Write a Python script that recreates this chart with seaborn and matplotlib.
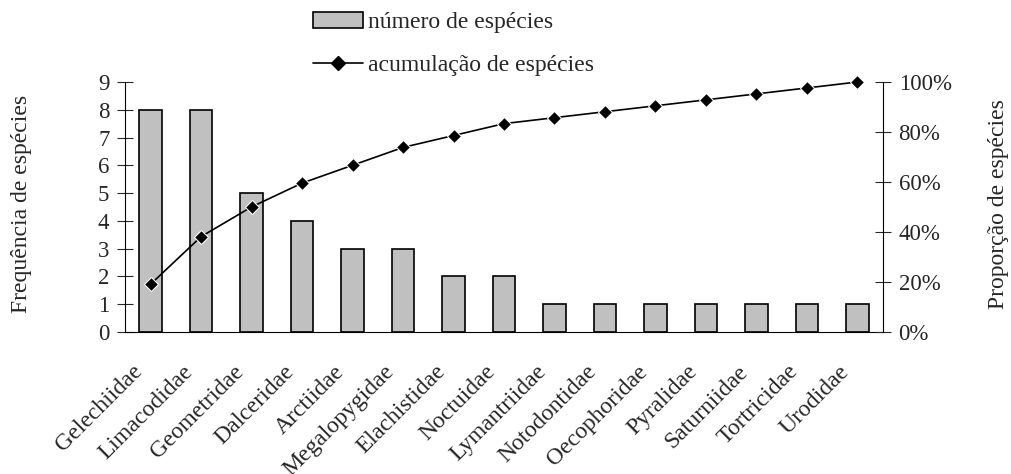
import numpy as np
import pandas as pd
import matplotlib.pyplot as plt
import matplotlib.transforms as mtransforms
import seaborn as sns
from matplotlib.patches import Patch
from matplotlib.lines import Line2D

# Families and number of species per family
familias = ['Gelechiidae', 'Limacodidae', 'Geometridae', 'Dalceridae', 'Arctiidae',
            'Megalopygidae', 'Elachistidae', 'Noctuidae', 'Lymantriidae', 'Notodontidae',
            'Oecophoridae', 'Pyralidae', 'Saturniidae', 'Tortricidae', 'Urodidae']
especies = [8, 8, 5, 4, 3, 3, 2, 2, 1, 1, 1, 1, 1, 1, 1]

df = pd.DataFrame({'familia': familias, 'n': especies})
df['acum'] = df['n'].cumsum() / df['n'].sum()
df['pos'] = np.arange(len(df))

sns.set_style('white')
plt.rcParams['font.family'] = ['Liberation Serif', 'DejaVu Serif']
fs = 17

fig = plt.figure(figsize=(10.11, 4.74), dpi=100)
ax = fig.add_axes([0.124, 0.30, 0.749, 0.527])

sns.barplot(data=df, x='familia', y='n', color='#c0c0c0', edgecolor='black',
            linewidth=1.2, width=0.45, saturation=1, ax=ax)
ax.set_ylim(0, 9)
ax.set_xlim(-0.5, len(df) - 0.5)
ax.set_yticks(range(10))
ax.set_xlabel('')
ax.set_ylabel('')
ax.set_xticks(df['pos'])
ax.set_xticklabels(familias, rotation=45, ha='right', rotation_mode='anchor')
ax.set_xticks(np.arange(-0.5, len(df)), minor=True)
ax.tick_params(axis='x', which='major', length=0, pad=21, labelsize=fs)
ax.tick_params(axis='x', which='minor', length=11, direction='inout', width=0.8)
ax.tick_params(axis='y', length=11, direction='inout', width=0.8, labelsize=16.5, pad=6)
# nudge the rotated labels a little to the left
shift = mtransforms.ScaledTranslation(-0.19, 0, fig.dpi_scale_trans)
for lbl in ax.get_xticklabels():
    lbl.set_transform(lbl.get_transform() + shift)
for s in ['top', 'right']:
    ax.spines[s].set_visible(False)
for s in ['left', 'bottom']:
    ax.spines[s].set_linewidth(0.8)
    ax.spines[s].set_color('black')

ax2 = ax.twinx()
sns.lineplot(x=df['pos'], y=df['acum'], color='black', marker='D', markersize=7,
             linewidth=1.2, clip_on=False, ax=ax2)
ax2.set_ylim(0, 1)
ax2.set_xlim(-0.5, len(df) - 0.5)
ax2.set_yticks(np.arange(0, 1.01, 0.2))
ax2.set_yticklabels([f'{int(round(v * 100))}%' for v in np.arange(0, 1.01, 0.2)])
ax2.set_ylabel('')
ax2.set_xlabel('')
ax2.tick_params(axis='y', length=11, direction='inout', width=0.8, labelsize=16.5, pad=6)
for s in ['top', 'left', 'bottom']:
    ax2.spines[s].set_visible(False)
ax2.spines['right'].set_linewidth(0.8)
ax2.spines['right'].set_color('black')

# axis titles
fig.text(0.021, 0.57, 'Frequência de espécies', rotation=90, ha='center', va='center', fontsize=fs)
fig.text(0.988, 0.57, 'Proporção de espécies', rotation=90, ha='center', va='center', fontsize=fs)

handles = [Patch(facecolor='#c0c0c0', edgecolor='black', linewidth=1.2),
           Line2D([], [], color='black', marker='D', markersize=7, linewidth=1.2)]
fig.legend(handles, ['número de espécies', 'acumulação de espécies'],
           loc='upper left', bbox_to_anchor=(0.289, 1.02), frameon=False,
           fontsize=fs, handlelength=2.1, handletextpad=0.2, labelspacing=0.9)

fig.savefig('out.png', dpi=100)
